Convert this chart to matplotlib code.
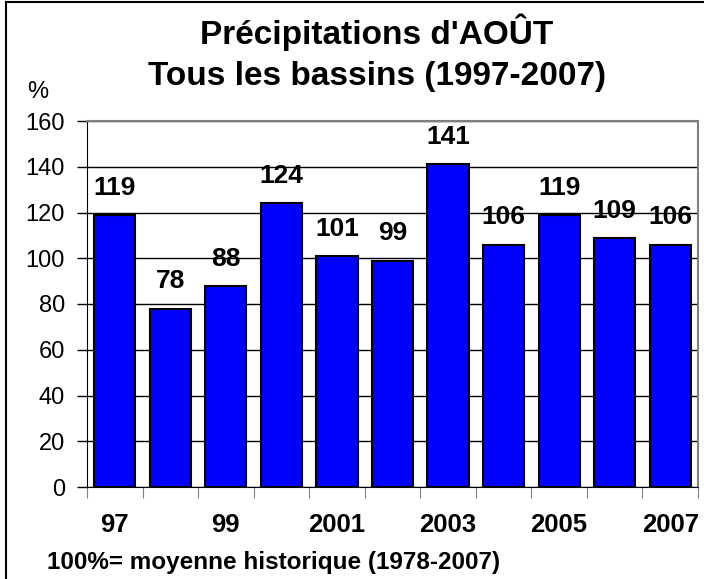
import matplotlib
matplotlib.use('Agg')
import matplotlib.pyplot as plt
import numpy as np

plt.rcParams['font.family'] = ['Liberation Sans', 'DejaVu Sans']

years = ['97', '98', '99', '2000', '2001', '2002', '2003', '2004', '2005', '2006', '2007']
values = [119, 78, 88, 124, 101, 99, 141, 106, 119, 109, 106]
shown = ['97', '', '99', '', '2001', '', '2003', '', '2005', '', '2007']
yticks = [0, 20, 40, 60, 80, 100, 120, 140, 160]

fig = plt.figure(figsize=(7.04, 5.79), dpi=100)
ax = fig.add_axes([87 / 704, 1 - 487 / 579, 611 / 704, 366 / 579])

x = np.arange(len(values))
ax.bar(x, values, width=0.74, color='#0000FF', edgecolor='black', linewidth=1.5, zorder=3)

# value labels above the bars
for xi, v in zip(x, values):
    ax.annotate(str(v), (xi, v), xytext=(0, 19.5), textcoords='offset points',
                ha='center', va='center', fontsize=19, fontweight='bold', zorder=4)

ax.set_xlim(-0.5, len(values) - 0.5)
ax.set_ylim(0, 160)
ax.set_yticks(yticks)
ax.tick_params(axis='y', labelsize=17, length=7, width=1, direction='out', pad=9)
ax.yaxis.grid(True, color='black', linewidth=1, zorder=0)

# ticks at category borders, labels at centres
ax.set_xticks(np.arange(-0.5, len(values), 1.0))
ax.set_xticklabels([])
ax.tick_params(axis='x', which='major', length=8, color='#808080', direction='out')
ax.set_xticks(x, minor=True)
ax.set_xticklabels(shown, minor=True, fontsize=18.5, fontweight='bold')
ax.tick_params(axis='x', which='minor', length=0, pad=19)

ax.spines['left'].set_color('black')
ax.spines['bottom'].set_color('black')
ax.spines['top'].set_color('#808080')
ax.spines['right'].set_color('#808080')
ax.spines['top'].set_linewidth(1.5)
ax.spines['right'].set_linewidth(1.5)

fig.text(377 / 704, 1 - 32 / 579, "Précipitations d'AOÛT", ha='center', va='center',
         fontsize=24, fontweight='bold')
fig.text(377 / 704, 1 - 76 / 579, "Tous les bassins (1997-2007)", ha='center', va='center',
         fontsize=24, fontweight='bold')
fig.text(38 / 704, 1 - 92 / 579, '%', ha='center', va='center', fontsize=17)
fig.text(47 / 704, 1 - 562 / 579, '100%= moyenne historique (1978-2007)', ha='left', va='center',
         fontsize=17.5, fontweight='bold')

# frame lines (top and left)
fig.add_artist(plt.Line2D([6 / 704, 6 / 704], [0, 1 - 2 / 579], color='black', linewidth=1.5, transform=fig.transFigure))
fig.add_artist(plt.Line2D([6 / 704, 1], [1 - 2 / 579, 1 - 2 / 579], color='black', linewidth=1.5, transform=fig.transFigure))

fig.savefig('out.png', dpi=100)
